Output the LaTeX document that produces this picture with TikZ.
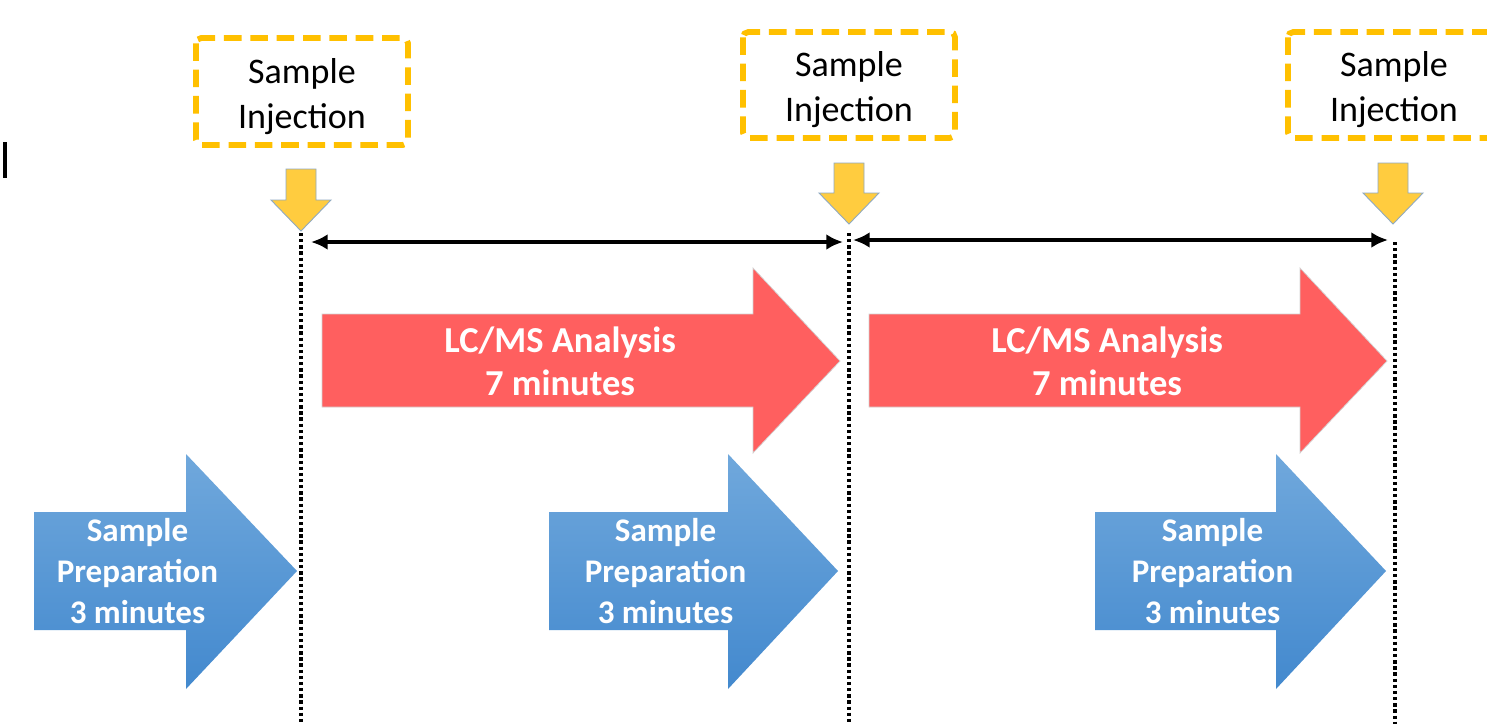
\documentclass[tikz,border=0pt]{standalone}
\usepackage{fontspec}
\setmainfont{Carlito}
\usetikzlibrary{arrows.meta}
\definecolor{injgold}{HTML}{FFC000}
\definecolor{yelfill}{HTML}{FFCC3F}
\definecolor{yeledge}{HTML}{8EA9C1}
\definecolor{lcred}{HTML}{FF5F5F}
\definecolor{bluetop}{HTML}{70A8DC}
\definecolor{bluebot}{HTML}{4389CE}
\tikzset{
  injbox/.style={draw=injgold, line width=3.3pt, dash pattern=on 10pt off 5pt, rounded corners=3pt},
  injtext/.style={font=\fontsize{20.5}{25.6}\selectfont, align=center, text=black},
  downarrow/.style={fill=yelfill, draw=yeledge, line width=0.5pt},
  redarrow/.style={fill=lcred, draw=gray!35, line width=0.4pt},
  bluearrow/.style={top color=bluetop, bottom color=bluebot, draw=none},
  arrowtext/.style={font=\fontsize{18.8}{23.3}\selectfont\bfseries, align=center, text=white},
  lctext/.style={font=\fontsize{20.8}{24.5}\selectfont\bfseries, align=center, text=white},
  timeline/.style={black, line width=1.9pt, dash pattern=on 1.9pt off 1.6pt},
  span/.style={black, line width=2.3pt, {Latex[length=9.5pt,width=9pt]}-{Latex[length=9.5pt,width=9pt]}}
}
\begin{document}
\begin{tikzpicture}[x=0.02cm, y=-0.02cm]
\useasboundingbox (0,0) rectangle (1487,724);
\clip (0,0) rectangle (1487,724);
\fill[white] (0,0) rectangle (1487,724);

% cursor bar
\fill[black] (3,142) rectangle (7,178);

% injection boxes
\draw[injbox] (196,38) rectangle (408,145);
\node[injtext] (inj1) at (302,97) {Sample\\Injection};
\draw[injbox] (743,32) rectangle (955,138);
\node[injtext] (inj2) at (849,90) {Sample\\Injection};
\draw[injbox] (1288,32) rectangle (1500,138);
\node[injtext] (inj3) at (1394,90) {Sample\\Injection};

% yellow down arrows
\draw[downarrow] (286,169) -- (316,169) -- (316,200) -- (331,200) -- (301,231) -- (271,200) -- (286,200) -- cycle;
\draw[downarrow] (834,163) -- (864,163) -- (864,193) -- (879,193) -- (849,224) -- (819,193) -- (834,193) -- cycle;
\draw[downarrow] (1378,163) -- (1408,163) -- (1408,193) -- (1423,193) -- (1393,224) -- (1363,193) -- (1378,193) -- cycle;

% timeline coordinates
\coordinate (t1top) at (301,233);
\coordinate (t1bot) at (301,724);
\coordinate (t2top) at (849,233);
\coordinate (t2bot) at (849,724);
\coordinate (t3top) at (1395,242);
\coordinate (t3bot) at (1395,724);
\draw[timeline] (t1top) -- (t1bot);
\draw[timeline] (t2top) -- (t2bot);
\draw[timeline] (t3top) -- (t3bot);

% spans
\coordinate (s1a) at (311,242);
\coordinate (s1b) at (843,242);
\coordinate (s2a) at (853,240);
\coordinate (s2b) at (1388,240);
\draw[span] (s1a) -- (s1b);
\draw[span] (s2a) -- (s2b);

% red arrows
\filldraw[redarrow] (322,314) -- (753,314) -- (753,268) -- (840,361) -- (753,453) -- (753,407) -- (322,407) -- cycle;
\node[lctext] (lc1) at (560,361) {LC/MS Analysis\\7 minutes};
\filldraw[redarrow] (869,314) -- (1300,314) -- (1300,268) -- (1387,361) -- (1300,453) -- (1300,407) -- (869,407) -- cycle;
\node[lctext] (lc2) at (1107,361) {LC/MS Analysis\\7 minutes};

% blue arrows
\shade[bluearrow] (34,512) -- (186,512) -- (186,454) -- (297,571) -- (186,689) -- (186,630) -- (34,630) -- cycle;
\node[arrowtext] (sp1) at (137.5,571) {Sample\\Preparation\\3 minutes};
\shade[bluearrow] (549,512) -- (728,512) -- (728,454) -- (838,571) -- (728,689) -- (728,630) -- (549,630) -- cycle;
\node[arrowtext] (sp2) at (665.5,571) {Sample\\Preparation\\3 minutes};
\shade[bluearrow] (1095,512) -- (1276,512) -- (1276,454) -- (1386,571) -- (1276,689) -- (1276,630) -- (1095,630) -- cycle;
\node[arrowtext] (sp3) at (1212.5,571) {Sample\\Preparation\\3 minutes};
\end{tikzpicture}
\end{document}
